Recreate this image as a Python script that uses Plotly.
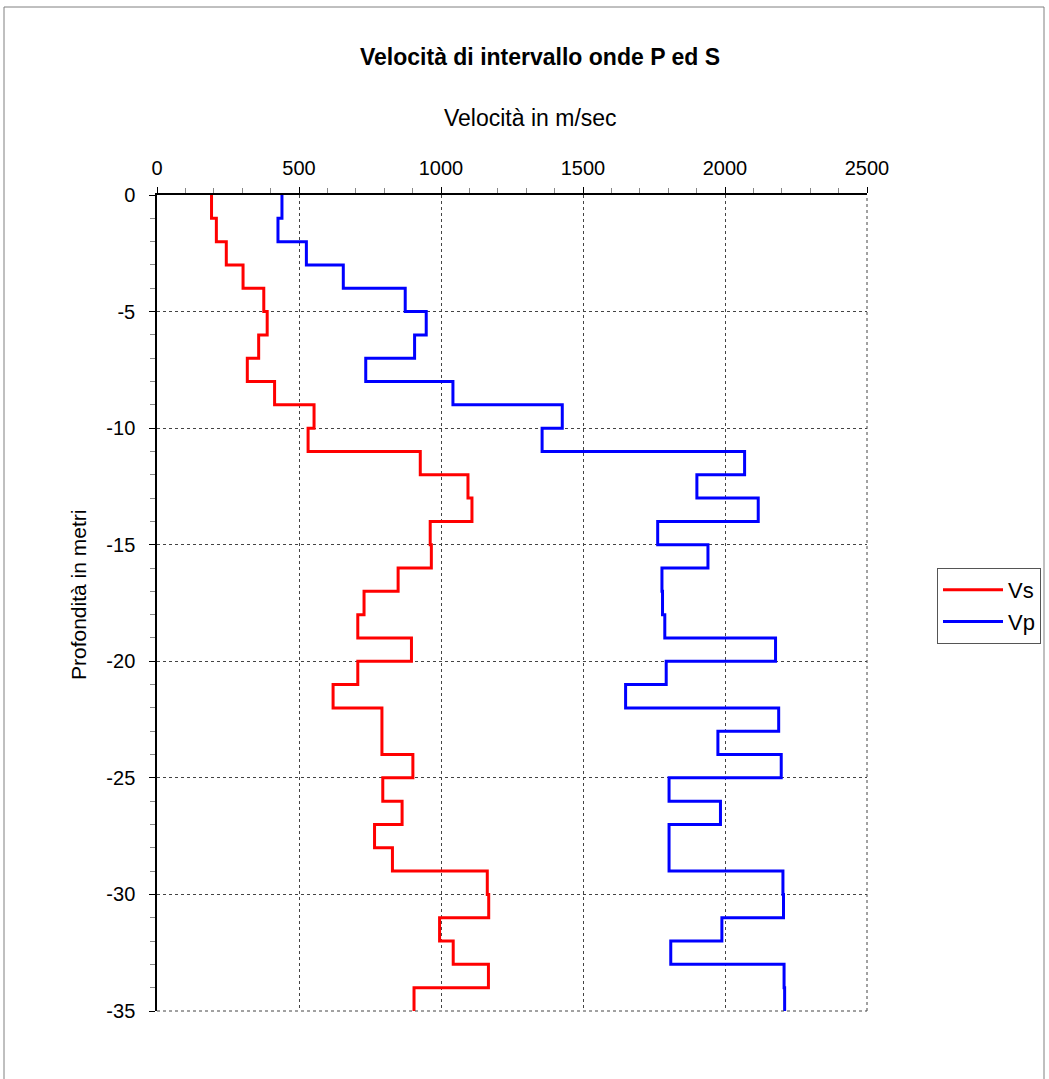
import plotly.graph_objects as go

# Layer top depths (m, negative downward) and bottom depth
depth_top = [0, -1, -2, -3, -4, -5, -6, -7, -8, -9, -10, -11, -12, -13, -14, -15, -16, -17,
             -18, -19, -20, -21, -22, -23, -24, -25, -26, -27, -28, -29, -30, -31, -32, -33, -34]
depth_bottom = -35

vs = [192, 209, 244, 303, 376, 388, 358, 318, 414, 553, 532, 927, 1095, 1109, 962, 966, 849, 729,
      707, 896, 707, 620, 792, 792, 901, 795, 863, 766, 829, 1163, 1168, 995, 1043, 1167, 905]
vp = [440, 426, 526, 656, 874, 948, 907, 735, 1042, 1427, 1356, 2069, 1901, 2117, 1763, 1940, 1778, 1780,
      1788, 2178, 1793, 1650, 2189, 1975, 2198, 1803, 1984, 1803, 1803, 2204, 2206, 1989, 1809, 2208, 2210]

x_ticks = [0, 500, 1000, 1500, 2000, 2500]
y_ticks = [0, -5, -10, -15, -20, -25, -30, -35]
y_ticktext = ["0", "-5", "-10", "-15", "-20", "-25", "-30", "-35"]

title_text = "Velocità di intervallo onde P ed S"
x_title = "Velocità in m/sec"
y_title = "Profondità in metri"

ys = depth_top + [depth_bottom]
vs_x = vs + [vs[-1]]
vp_x = vp + [vp[-1]]

FONT = "Liberation Sans, Arial, sans-serif"
W, H = 1049, 1079
L, R, T, B = 157, 867, 195, 1011

fig = go.Figure()
fig.add_trace(go.Scatter(x=vs_x, y=ys, mode="lines", name="Vs", line=dict(color="#FF0000", width=3, shape="vh")))
fig.add_trace(go.Scatter(x=vp_x, y=ys, mode="lines", name="Vp", line=dict(color="#0000FF", width=3, shape="vh")))

def px2paper_x(px):
    return (px - L) / (R - L)

def px2paper_y(py):
    return (B - py) / (B - T)

fig.update_layout(
    width=W, height=H,
    margin=dict(l=L, r=W - R, t=T, b=H - B, autoexpand=False),
    paper_bgcolor="white", plot_bgcolor="white",
    font=dict(family=FONT, size=20, color="black"),
    showlegend=True,
    legend=dict(x=px2paper_x(937), y=px2paper_y(568), xanchor="left", yanchor="top",
                bordercolor="#555555", borderwidth=1, bgcolor="white",
                font=dict(size=22, family=FONT), itemwidth=60),
    xaxis=dict(side="top", range=[0, 2500], tickvals=x_ticks, ticks="outside", ticklen=6,
               tickcolor="black", showline=True, linecolor="black", linewidth=1.5,
               showgrid=True, gridcolor="#444444", griddash="dot", gridwidth=1,
               zeroline=False, tickfont=dict(size=20), ticklabelstandoff=4,
               minor=dict(dtick=100, ticks="outside", ticklen=5, tickcolor="#888888", showgrid=False)),
    yaxis=dict(range=[-35, 0], tickvals=y_ticks, ticktext=y_ticktext, ticks="outside", ticklen=6,
               tickcolor="black", showline=True, linecolor="black", linewidth=1.5,
               showgrid=True, gridcolor="#444444", griddash="dot", gridwidth=1,
               zeroline=False, tickfont=dict(size=20), ticklabelstandoff=10,
               minor=dict(dtick=1, ticks="outside", ticklen=5, tickcolor="#888888", showgrid=False)),
    annotations=[
        dict(text="<b>" + title_text + "</b>", xref="paper", yref="paper",
             x=px2paper_x(540), y=px2paper_y(57), xanchor="center", yanchor="middle",
             showarrow=False, font=dict(size=23, family=FONT)),
        dict(text=x_title, xref="paper", yref="paper",
             x=px2paper_x(530), y=px2paper_y(118), xanchor="center", yanchor="middle",
             showarrow=False, font=dict(size=23, family=FONT)),
        dict(text=y_title, xref="paper", yref="paper", textangle=-90,
             x=px2paper_x(78), y=px2paper_y(595), xanchor="center", yanchor="middle",
             showarrow=False, font=dict(size=21, family=FONT)),
    ],
    shapes=[
        dict(type="rect", xref="paper", yref="paper",
             x0=px2paper_x(4), x1=px2paper_x(1044), y0=px2paper_y(1090), y1=px2paper_y(7),
             line=dict(color="#808080", width=1), fillcolor="rgba(0,0,0,0)", layer="below"),
        dict(type="line", xref="paper", yref="paper", x0=1, x1=1, y0=0, y1=1,
             line=dict(color="#444444", width=1, dash="dot")),
        dict(type="line", xref="paper", yref="paper", x0=0, x1=1, y0=0, y1=0,
             line=dict(color="#444444", width=1, dash="dot")),
    ],
)

fig.write_html("out.html")
